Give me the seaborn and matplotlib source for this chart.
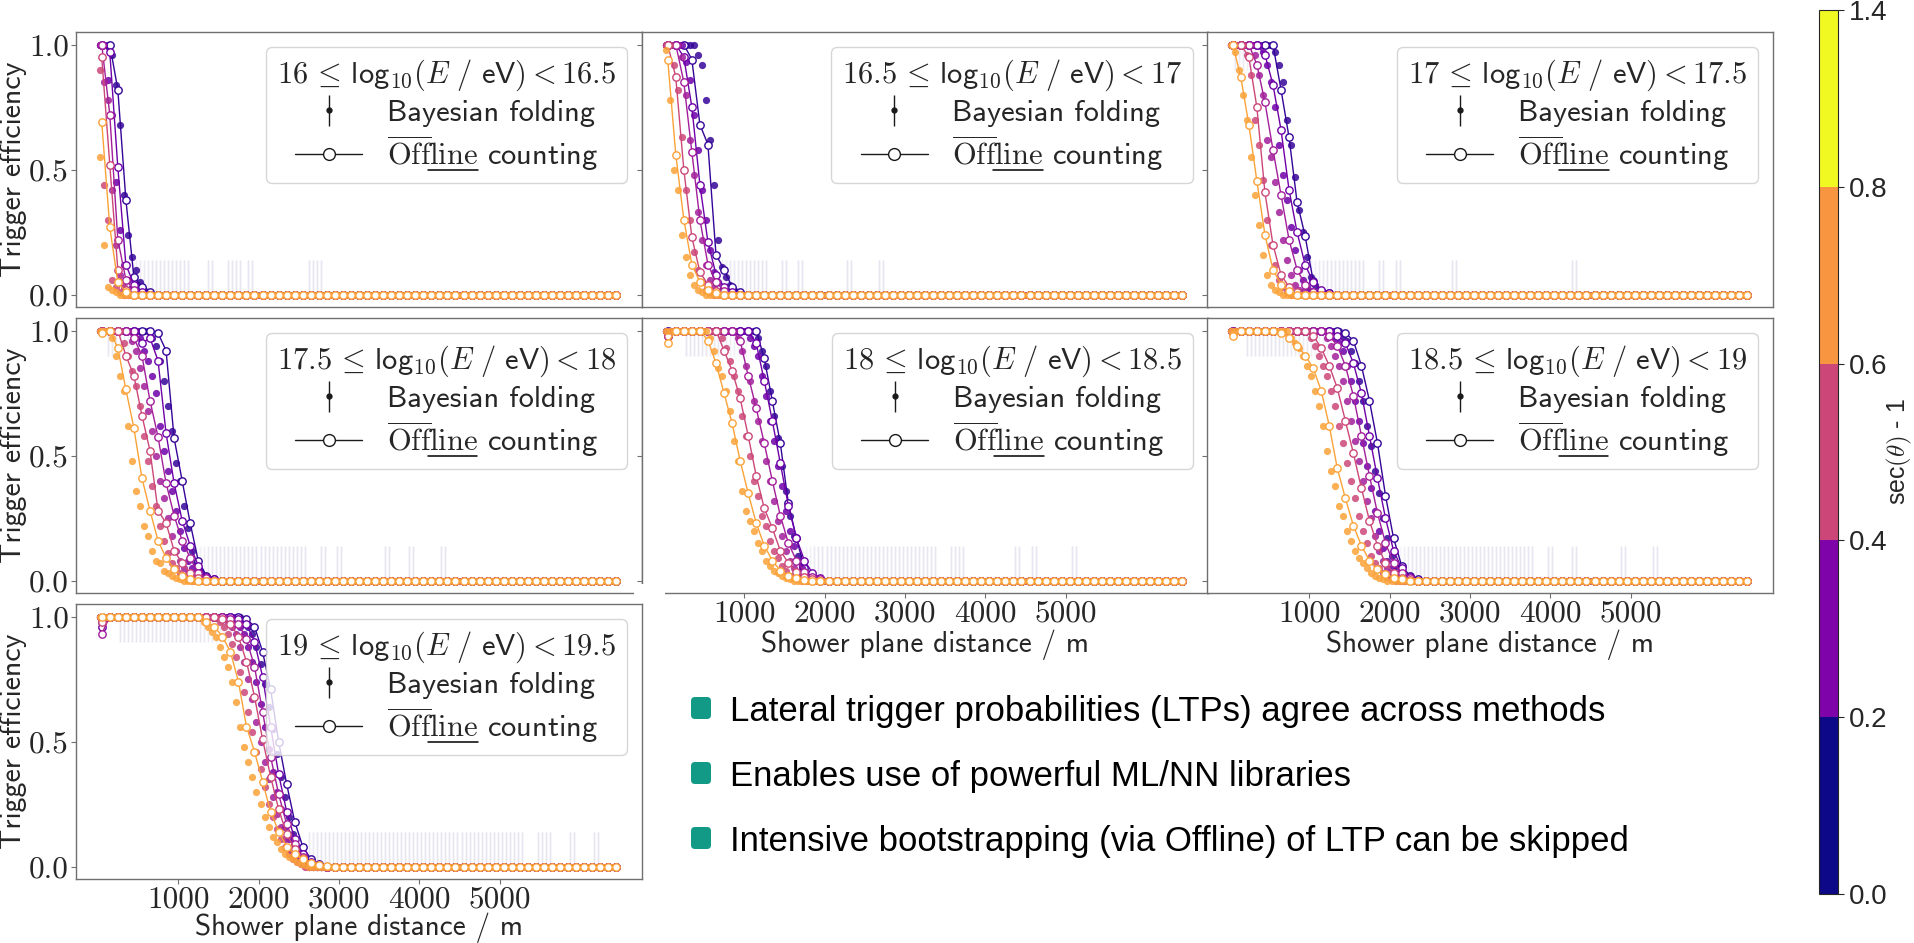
import numpy as np
import pandas as pd
import matplotlib
matplotlib.use("Agg")
import matplotlib.pyplot as plt
import matplotlib.colors as mcolors
import matplotlib.transforms as mtrans
from matplotlib.patches import FancyBboxPatch, Rectangle
from matplotlib.lines import Line2D
from matplotlib.collections import LineCollection
from matplotlib.container import ErrorbarContainer
import seaborn as sns

sns.set_theme(style="white")
plt.rcParams["mathtext.fontset"] = "cm"
plt.rcParams["font.family"] = ["cmss10", "DejaVu Sans"]
plt.rcParams["axes.unicode_minus"] = False

# ---------------- data ----------------
energy_lo = ["16", "16.5", "17", "17.5", "18", "18.5", "19"]
energy_hi = ["16.5", "17", "17.5", "18", "18.5", "19", "19.5"]
zenith_edges = [0.0, 0.2, 0.4, 0.6, 0.8, 1.4]
zenith_centers = [0.1, 0.3, 0.5, 0.7, 1.1]
x_ticks = [1000, 2000, 3000, 4000, 5000]
y_ticks = [0.0, 0.5, 1.0]
x_offline = np.arange(50, 6500, 100)     # bin centres of the Offline counting
x_bayes = np.arange(25, 6450, 50)        # positions of the Bayesian folding points

# Offline counting efficiencies (zenith bins: 0-0.2, 0.2-0.4, 0.4-0.6, 0.6-0.8, 0.8-1.4), zeros follow
offline_p1 = [
    [1.0, 1.0, 0.82, 0.38, 0.07, 0.03, 0.01],
    [1.0, 0.97, 0.51, 0.12, 0.04, 0.01],
    [1.0, 0.72, 0.22, 0.06, 0.02],
    [0.95, 0.52, 0.10, 0.02],
    [0.69, 0.27, 0.05, 0.01],
]
offline_p2 = [
    [1.0, 1.0, 1.0, 0.94, 0.68, 0.60, 0.16, 0.10, 0.03, 0.01],
    [1.0, 1.0, 0.95, 0.75, 0.44, 0.21, 0.08, 0.03, 0.01],
    [1.0, 1.0, 0.85, 0.57, 0.30, 0.12, 0.05, 0.015],
    [1.0, 0.87, 0.50, 0.23, 0.09, 0.04, 0.015],
    [0.94, 0.56, 0.30, 0.12, 0.05, 0.02, 0.005],
]
offline_p3 = [
    [1.0, 1.0, 1.0, 1.0, 1.0, 1.0, 0.82, 0.63, 0.37, 0.235, 0.055, 0.015, 0.005],
    [1.0, 1.0, 1.0, 1.0, 0.96, 0.84, 0.66, 0.42, 0.25, 0.12, 0.05, 0.02, 0.005],
    [1.0, 1.0, 1.0, 0.92, 0.77, 0.58, 0.40, 0.22, 0.10, 0.04, 0.01],
    [1.0, 1.0, 0.95, 0.75, 0.41, 0.20, 0.08, 0.03, 0.01],
    [1.0, 0.87, 0.68, 0.455, 0.24, 0.10, 0.04, 0.015],
]
offline_p4 = [
    [1.0] * 7 + [0.99, 0.92, 0.57, 0.40, 0.23, 0.08, 0.02, 0.005],
    [1.0] * 5 + [0.95, 0.97, 0.88, 0.59, 0.39, 0.24, 0.14, 0.06, 0.015, 0.005],
    [1.0] * 4 + [0.97, 0.90, 0.72, 0.575, 0.39, 0.26, 0.16, 0.09, 0.03, 0.01],
    [1.0] * 3 + [0.90, 0.82, 0.66, 0.52, 0.28, 0.23, 0.12, 0.07, 0.03, 0.01],
    [0.99, 1.0, 0.93, 0.765, 0.61, 0.41, 0.28, 0.16, 0.09, 0.045, 0.02, 0.005],
]
offline_p5 = [
    [1.0] * 12 + [0.89, 0.72, 0.55, 0.31, 0.17, 0.05, 0.015, 0.005],
    [0.98] + [1.0] * 10 + [0.95, 0.80, 0.64, 0.47, 0.30, 0.17, 0.08, 0.03, 0.01],
    [0.98] + [1.0] * 8 + [0.96, 0.82, 0.69, 0.55, 0.40, 0.26, 0.15, 0.08, 0.035, 0.015, 0.005],
    [0.98] + [1.0] * 6 + [0.92, 0.84, 0.73, 0.58, 0.42, 0.29, 0.21, 0.12, 0.07, 0.035, 0.015, 0.005],
    [0.95] + [1.0] * 4 + [0.96, 0.87, 0.75, 0.63, 0.48, 0.35, 0.23, 0.14, 0.08, 0.04, 0.02, 0.01, 0.003],
]
offline_p6 = [
    [1.0] * 14 + [0.99, 0.96, 0.86, 0.72, 0.55, 0.34, 0.17, 0.06, 0.02, 0.005],
    [1.0] * 13 + [0.98, 0.95, 0.87, 0.75, 0.58, 0.41, 0.25, 0.12, 0.05, 0.015],
    [1.0] * 12 + [0.98, 0.94, 0.86, 0.74, 0.58, 0.42, 0.27, 0.15, 0.07, 0.03, 0.01],
    [0.99] + [1.0] * 9 + [0.98, 0.93, 0.86, 0.77, 0.64, 0.51, 0.37, 0.24, 0.14, 0.07, 0.03, 0.012, 0.004],
    [0.98] + [1.0] * 5 + [0.99, 0.97, 0.94, 0.90, 0.85, 0.76, 0.62, 0.45, 0.33, 0.22, 0.14, 0.08, 0.045, 0.025, 0.012, 0.005],
]
offline_p7 = [
    [0.98] + [1.0] * 17 + [0.99, 0.96, 0.86, 0.71, 0.50, 0.33, 0.18, 0.08, 0.03, 0.01],
    [0.96] + [1.0] * 16 + [0.99, 0.97, 0.90, 0.76, 0.56, 0.37, 0.22, 0.11, 0.05, 0.02, 0.006],
    [0.93] + [1.0] * 15 + [0.99, 0.97, 0.91, 0.80, 0.62, 0.44, 0.29, 0.17, 0.09, 0.04, 0.015, 0.005],
    [0.98] + [1.0] * 14 + [0.99, 0.97, 0.92, 0.82, 0.68, 0.51, 0.36, 0.23, 0.13, 0.07, 0.035, 0.015, 0.005],
    [1.0] * 13 + [0.98, 0.96, 0.92, 0.86, 0.74, 0.56, 0.46, 0.34, 0.22, 0.14, 0.08, 0.05, 0.03, 0.015, 0.007, 0.003],
]

# Bayesian folding efficiencies on the 50 m grid: (number of leading 1.0 points, following values), zeros follow
bayes_p1 = [
    (3, [0.96, 0.84, 0.68, 0.40, 0.24, 0.15, 0.10, 0.05, 0.02, 0.01]),
    (2, [0.86, 0.72, 0.45, 0.26, 0.12, 0.06, 0.03, 0.01]),
    (1, [0.85, 0.78, 0.42, 0.20, 0.08, 0.03, 0.01]),
    (0, [0.90, 0.44, 0.30, 0.06, 0.03, 0.01]),
    (0, [0.55, 0.20, 0.03, 0.02, 0.01]),
]
bayes_p2 = [
    (8, [0.96, 0.92, 0.78, 0.62, 0.44, 0.22, 0.11, 0.07, 0.04, 0.02, 0.01]),
    (5, [0.93, 0.86, 0.72, 0.58, 0.42, 0.30, 0.18, 0.09, 0.05, 0.02, 0.01]),
    (4, [0.95, 0.80, 0.62, 0.48, 0.33, 0.22, 0.12, 0.06, 0.03, 0.01]),
    (2, [0.92, 0.82, 0.63, 0.42, 0.30, 0.17, 0.10, 0.05, 0.02, 0.01]),
    (0, [0.98, 0.78, 0.50, 0.42, 0.24, 0.15, 0.08, 0.04, 0.02, 0.01]),
]
bayes_p3 = [
    (11, [0.97, 0.92, 0.85, 0.70, 0.60, 0.47, 0.34, 0.25, 0.15, 0.07, 0.04, 0.02, 0.01]),
    (8, [0.97, 0.92, 0.85, 0.75, 0.60, 0.48, 0.38, 0.27, 0.18, 0.10, 0.06, 0.03, 0.015, 0.005]),
    (6, [0.96, 0.88, 0.80, 0.62, 0.55, 0.45, 0.33, 0.22, 0.14, 0.08, 0.04, 0.02, 0.01]),
    (4, [0.96, 0.88, 0.70, 0.60, 0.46, 0.30, 0.20, 0.12, 0.06, 0.03, 0.01]),
    (1, [0.97, 0.90, 0.80, 0.70, 0.55, 0.40, 0.28, 0.16, 0.08, 0.04, 0.02, 0.01]),
]
bayes_p4 = [
    (13, [0.97, 0.94, 0.88, 0.80, 0.70, 0.60, 0.47, 0.40, 0.30, 0.21, 0.12, 0.07, 0.04, 0.02, 0.01]),
    (10, [0.97, 0.92, 0.88, 0.82, 0.75, 0.62, 0.52, 0.44, 0.36, 0.28, 0.20, 0.13, 0.08, 0.05, 0.03, 0.015, 0.005]),
    (8, [0.96, 0.92, 0.85, 0.78, 0.68, 0.60, 0.50, 0.40, 0.33, 0.25, 0.18, 0.12, 0.08, 0.05, 0.03, 0.015, 0.005]),
    (6, [0.95, 0.90, 0.84, 0.78, 0.70, 0.58, 0.48, 0.38, 0.30, 0.22, 0.16, 0.11, 0.07, 0.05, 0.03, 0.02, 0.01]),
    (3, [0.97, 0.90, 0.82, 0.76, 0.62, 0.48, 0.36, 0.30, 0.22, 0.18, 0.12, 0.08, 0.07, 0.04, 0.03, 0.02, 0.01, 0.005]),
]
bayes_p5 = [
    (23, [0.97, 0.92, 0.86, 0.76, 0.66, 0.57, 0.46, 0.36, 0.26, 0.18, 0.10, 0.06, 0.03, 0.015, 0.005]),
    (21, [0.97, 0.94, 0.90, 0.82, 0.74, 0.64, 0.56, 0.46, 0.38, 0.28, 0.20, 0.14, 0.08, 0.05, 0.03, 0.01]),
    (18, [0.97, 0.92, 0.86, 0.80, 0.72, 0.64, 0.56, 0.48, 0.40, 0.32, 0.24, 0.18, 0.12, 0.08, 0.05, 0.03, 0.015, 0.005]),
    (14, [0.97, 0.93, 0.88, 0.82, 0.76, 0.66, 0.58, 0.50, 0.40, 0.34, 0.26, 0.22, 0.16, 0.12, 0.09, 0.06, 0.04, 0.02, 0.01, 0.005]),
    (11, [0.97, 0.92, 0.85, 0.82, 0.76, 0.68, 0.56, 0.48, 0.36, 0.28, 0.24, 0.20, 0.15, 0.12, 0.08, 0.06, 0.04, 0.03, 0.02, 0.01, 0.005]),
]
bayes_p6 = [
    (28, [0.98, 0.96, 0.92, 0.87, 0.80, 0.72, 0.62, 0.54, 0.44, 0.35, 0.25, 0.17, 0.10, 0.06, 0.03, 0.015, 0.005]),
    (26, [0.97, 0.95, 0.92, 0.86, 0.80, 0.72, 0.64, 0.55, 0.46, 0.37, 0.28, 0.20, 0.13, 0.08, 0.05, 0.03, 0.012, 0.004]),
    (24, [0.97, 0.94, 0.90, 0.86, 0.80, 0.72, 0.64, 0.56, 0.48, 0.40, 0.32, 0.25, 0.18, 0.12, 0.08, 0.05, 0.03, 0.015, 0.005]),
    (20, [0.97, 0.94, 0.90, 0.86, 0.82, 0.76, 0.70, 0.62, 0.55, 0.47, 0.40, 0.33, 0.26, 0.20, 0.15, 0.10, 0.07, 0.05, 0.03, 0.015, 0.005]),
    (15, [0.97, 0.95, 0.93, 0.90, 0.86, 0.82, 0.76, 0.70, 0.62, 0.52, 0.44, 0.38, 0.30, 0.26, 0.20, 0.16, 0.12, 0.09, 0.07, 0.05, 0.03, 0.02, 0.01, 0.005]),
]
bayes_p7 = [
    (36, [0.98, 0.96, 0.93, 0.88, 0.81, 0.73, 0.64, 0.55, 0.45, 0.36, 0.28, 0.20, 0.13, 0.08, 0.05, 0.03, 0.015, 0.005]),
    (34, [0.98, 0.96, 0.93, 0.88, 0.82, 0.74, 0.65, 0.56, 0.47, 0.38, 0.30, 0.23, 0.16, 0.11, 0.07, 0.04, 0.02, 0.01]),
    (32, [0.98, 0.96, 0.93, 0.88, 0.82, 0.75, 0.67, 0.58, 0.50, 0.42, 0.35, 0.28, 0.21, 0.16, 0.11, 0.07, 0.05, 0.03, 0.015, 0.005]),
    (30, [0.98, 0.96, 0.93, 0.89, 0.84, 0.78, 0.70, 0.62, 0.54, 0.46, 0.39, 0.32, 0.25, 0.20, 0.15, 0.11, 0.08, 0.05, 0.03, 0.02, 0.01]),
    (26, [0.98, 0.96, 0.94, 0.92, 0.88, 0.84, 0.80, 0.74, 0.66, 0.56, 0.48, 0.42, 0.36, 0.30, 0.25, 0.20, 0.16, 0.12, 0.10, 0.07, 0.05, 0.04, 0.03, 0.02, 0.01, 0.005]),
]

# Bayesian uncertainty bands (faint error bars): tail region (upper error), plateau region (lower error)
tail_err = 0.14
plateau_err = 0.10
tail_range = [(300, 1150), (500, 1300), (700, 1700), (1100, 2600), (1500, 3400), (2000, 3800), (2600, 5300)]
plateau_range = [None, None, (75, 450), (100, 700), (250, 1250), (200, 1450), (250, 1650)]
sparse_err_x = [
    [1400, 1650, 1750, 1900, 2650, 2750],
    [1500, 1700, 2300, 2700],
    [1900, 2100, 2800, 4300],
    [2800, 3000, 3600, 3900, 4300],
    [3600, 3700, 4400, 4600, 5100],
    [4000, 4300, 4900, 5300],
    [5500, 5600, 5900, 6200],
]

offline_all = [offline_p1, offline_p2, offline_p3, offline_p4, offline_p5, offline_p6, offline_p7]
bayes_all = [bayes_p1, bayes_p2, bayes_p3, bayes_p4, bayes_p5, bayes_p6, bayes_p7]

bullets = [
    "Lateral trigger probabilities (LTPs) agree across methods",
    "Enables use of powerful ML/NN libraries",
    "Intensive bootstrapping (via Offline) of LTP can be skipped",
]
cbar_ticklabels = ["0.0", "0.2", "0.4", "0.6", "0.8", "1.4"]

# ---------------- helpers ----------------
def pad_offline(vals):
    return np.array(list(vals) + [0.0] * (len(x_offline) - len(vals)))

def pad_bayes(n1, vals):
    return np.array([1.0] * n1 + list(vals) + [0.0] * (len(x_bayes) - n1 - len(vals)))

# ---------------- figure ----------------
W, H = 1915, 943
fig = plt.figure(figsize=(W / 100, H / 100), dpi=100)

plasma = plt.get_cmap("plasma")
znorm = mcolors.Normalize(0.0, 1.4)
zcolors = [plasma(znorm(z)) for z in zenith_centers]
haze_color = "#7466b0"

col_left = [76, 642, 1207]
row_top = [32, 318, 604]
aw, ah = 566, 275
panel_pos = [(0, 0), (0, 1), (0, 2), (1, 0), (1, 1), (1, 2), (2, 0)]
bottom_panels = {4, 5, 6}
spine_col = "#707070"
FS_TICK = 22.5
FS_LEG = 22
FS_XLAB = 21
FS_YLAB = 21.5

legends = []
for p, (r, c) in enumerate(panel_pos):
    ax = fig.add_axes([col_left[c] / W, 1 - (row_top[r] + ah) / H, aw / W, ah / H])
    ax.set_facecolor("white")
    for z in range(5):
        col = zcolors[z]
        yb = pad_bayes(*bayes_all[p][z])
        yo = pad_offline(offline_all[p][z])
        lo = np.zeros_like(yb)
        hi = np.zeros_like(yb)
        if plateau_range[p] is not None:
            a, b = plateau_range[p]
            lo[(yb >= 1.0) & (x_bayes >= a) & (x_bayes <= b)] = plateau_err
        t0, t1 = tail_range[p]
        near = np.zeros(len(x_bayes), dtype=bool)
        for s in sparse_err_x[p]:
            near |= np.abs(x_bayes - s) < 30
        hi[(yb <= 0.0) & (((x_bayes >= t0) & (x_bayes <= t1)) | near)] = tail_err
        m = (lo > 0) | (hi > 0)
        ax.errorbar(x_bayes[m], yb[m], yerr=[lo[m], hi[m]], fmt="none", ecolor=haze_color,
                    elinewidth=1.0, alpha=0.03, zorder=1)
        sns.scatterplot(x=x_bayes, y=yb, ax=ax, color=col, s=27, alpha=0.85,
                        linewidth=0, legend=False, zorder=2 + 0.2 * z)
        sns.lineplot(x=x_offline, y=yo, ax=ax, color=col, linewidth=1.0, marker="o",
                     markersize=5.3, markerfacecolor="white", markeredgecolor=col,
                     markeredgewidth=1.0, errorbar=None, sort=False, legend=False,
                     zorder=2.1 + 0.2 * z)
    ax.set_xlim(-270, 6770)
    ax.set_ylim(-0.05, 1.05)
    for sp in ax.spines.values():
        sp.set_color(spine_col)
        sp.set_linewidth(1.0)
        sp.set_visible(True)
    ax.set_yticks(y_ticks)
    ax.tick_params(axis="both", which="both", direction="out", length=3.5, width=0.8,
                   color=spine_col, left=True, bottom=(p in bottom_panels), pad=1.5)
    if c == 0:
        ax.set_yticklabels(["0.0", "0.5", "1.0"], fontfamily="cmr10", fontsize=FS_TICK)
        ax.set_ylabel("Trigger efficiency", fontsize=FS_YLAB, va="baseline")
        ax.yaxis.set_label_coords(-0.0965, 0.5)
    else:
        ax.set_yticklabels([])
        ax.set_ylabel("")
    if p in bottom_panels:
        ax.set_xticks(x_ticks)
        ax.set_xticklabels([str(t) for t in x_ticks], fontfamily="cmr10", fontsize=FS_TICK)
        ax.set_xlabel("Shower plane distance / m", fontsize=FS_XLAB, va="baseline")
        ax.xaxis.set_label_coords(0.5, -0.205 if p == 6 else -0.215)
    else:
        ax.set_xticks([])
        ax.set_xlabel("")

    # legend
    data_line = Line2D([], [], marker="o", ls="none", color="k", ms=3.5)
    bar_lc = LineCollection([], colors="k", linewidths=1.0)
    h_bayes = ErrorbarContainer((data_line, (), (bar_lc,)), has_xerr=False, has_yerr=True)
    h_off = Line2D([], [], color="k", lw=1.0, marker="o", ms=8.5, mfc="white", mec="k", mew=1.0)
    title = r"$%s\,\leq\,\mathsf{log}_{10}(E\ /\ \mathsf{eV}) < %s$" % (energy_lo[p], energy_hi[p])
    leg = ax.legend([h_bayes, h_off],
                    ["Bayesian folding", r"$\overline{\mathrm{Off}}\mathrm{line}$ counting"],
                    title=title, loc="upper right", fontsize=FS_LEG, title_fontsize=FS_LEG,
                    handlelength=2.2, handletextpad=0.8, labelspacing=0.2, borderpad=0.35,
                    borderaxespad=0.5, framealpha=0.8, edgecolor="0.8", fancybox=True)
    legends.append(leg)

# colorbar
cmap_cb = mcolors.ListedColormap(plasma(np.linspace(0, 1, 5)))
norm_cb = mcolors.BoundaryNorm(zenith_edges, 5)
cax = fig.add_axes([1819 / W, 1 - 894 / H, 19 / W, 884 / H])
sm = matplotlib.cm.ScalarMappable(norm=norm_cb, cmap=cmap_cb)
cb = fig.colorbar(sm, cax=cax, ticks=zenith_edges, spacing="uniform")
cb.set_ticklabels(cbar_ticklabels)
cb.ax.tick_params(labelsize=20, length=4, width=0.8)
for t in cb.ax.get_yticklabels():
    t.set_fontfamily("Liberation Sans")
cb.outline.set_linewidth(0.8)
fig.text(1899 / W, 1 - 452 / H, r"sec$(\theta)$ - 1", rotation=90, ha="center", va="center",
         fontsize=18, fontfamily="Liberation Sans")

ident = mtrans.IdentityTransform()

# small white cover seen in the reference between the middle-row panels
fig.add_artist(Rectangle((634, H - 601), 31, 17, facecolor="white", edgecolor="none",
                         transform=ident, zorder=10))

# bullet text
for i, (txt, yc) in enumerate(zip(bullets, [708, 773, 838])):
    fig.add_artist(FancyBboxPatch((691, H - yc - 11), 20, 22,
                                  boxstyle="round,pad=0,rounding_size=4",
                                  facecolor="#129a87", edgecolor="none", transform=ident))
    fig.text(730 / W, 1 - yc / H, txt, fontsize=25, fontfamily="Liberation Sans",
             va="center_baseline", ha="left", color="black")

# underline "line" in the Offline label
fig.canvas.draw()
renderer = fig.canvas.get_renderer()
for leg in legends:
    t = leg.get_texts()[1]
    bb = t.get_window_extent(renderer)
    x1 = bb.x0 + 0.194 * bb.width
    x2 = bb.x0 + 0.43 * bb.width
    y = bb.y0 + 3.0
    fig.add_artist(Line2D([x1, x2], [y, y], color="black", lw=1.1, transform=ident))

fig.savefig("out.png", dpi=100, facecolor="white")
